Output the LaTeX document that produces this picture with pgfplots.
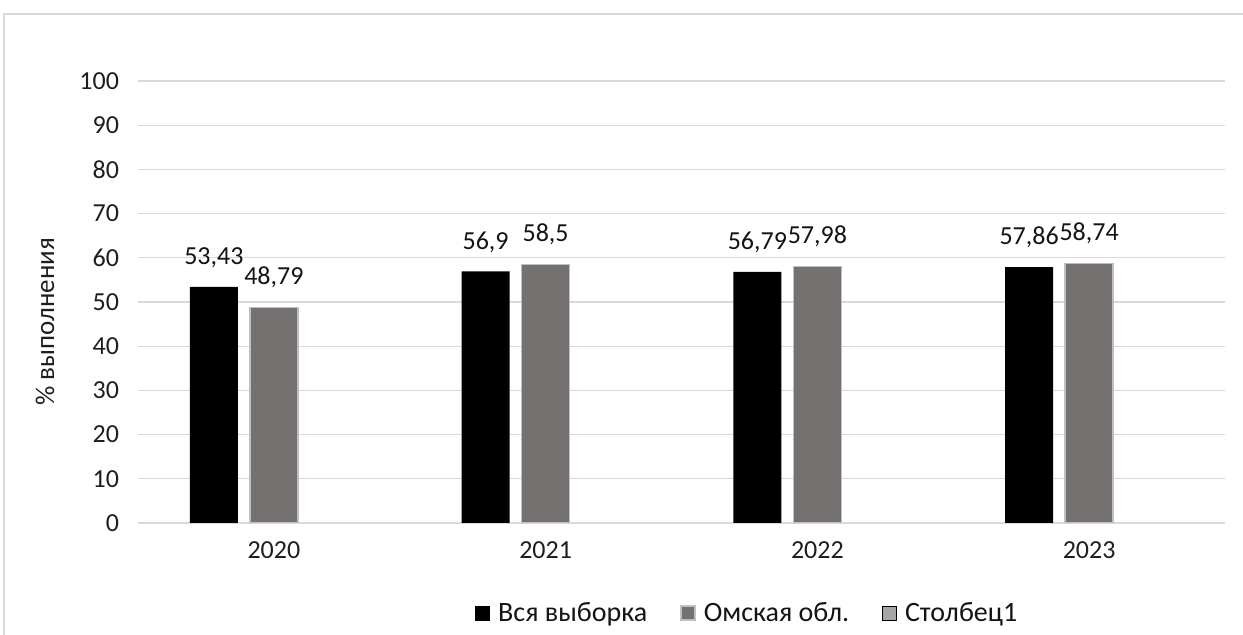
\documentclass[border=0pt]{standalone}
\usepackage{fontspec}
\setmainfont{Carlito}
\usepackage{pgfplots}
\pgfplotsset{compat=1.18}
\definecolor{omsk}{RGB}{118,113,113}
\definecolor{omskedge}{RGB}{191,191,191}
\definecolor{col1}{RGB}{165,165,165}
\definecolor{gridc}{RGB}{217,217,217}
\definecolor{txt}{RGB}{20,20,20}
\definecolor{tickc}{RGB}{30,30,30}
\begin{document}
\begin{tikzpicture}
\useasboundingbox (0,0) rectangle (621.5pt,317.5pt);
\begin{scope}
\clip (0,0) rectangle (621.5pt,317.5pt);
\draw[gridc, line width=0.6pt] (2pt,-5pt) rectangle (630pt,310.5pt);
\end{scope}
\begin{axis}[
  at={(69pt,56pt)}, anchor=south west,
  scale only axis, width=543.5pt, height=221pt,
  xmin=-0.5, xmax=3.5, ymin=0, ymax=100,
  xtick={0,1,2,3}, xticklabels={2020,2021,2022,2023},
  ytick={0,10,...,100},
  ymajorgrids, grid style={gridc, line width=0.6pt},
  axis line style={draw=none},
  major tick length=0pt,
  tick label style={font=\fontsize{13}{15}\selectfont, text=tickc},
  yticklabel style={xshift=-6pt},
  xticklabel style={yshift=-6pt},
  /pgf/number format/assume math mode=true,
  /pgf/number format/use comma,
  /pgf/number format/1000 sep={},
  ylabel={\% выполнения},
  ylabel style={at={(axis description cs:-0.0856,0.455)}, anchor=center, font=\fontsize{13.5}{15}\selectfont, text=tickc},
  legend style={at={(axis description cs:0.561,-0.2036)}, anchor=center, draw=none, fill=none, legend columns=3,
    font=\fontsize{14}{16}\selectfont, text=txt, nodes={inner xsep=1.5pt},
    /tikz/every odd column/.append style={column sep=2.5pt},
    /tikz/every even column/.append style={column sep=15pt}},
  legend image code/.code={\draw[#1] (0pt,-3.5pt) rectangle (7pt,3.5pt);},
  nodes near coords={\pgfmathprintnumber{\pgfplotspointmeta}},
  every node near coord/.append style={font=\fontsize{13}{15}\selectfont, text=txt, yshift=6pt},
]
\addplot[ybar, bar width=24pt, bar shift=-30pt, fill=black, draw=none,
  every node near coord/.append style={xshift=-30pt}]
  coordinates {(0,53.43) (1,56.9) (2,56.79) (3,57.86)};
\addlegendentry{Вся выборка}
\addplot[ybar, bar width=24pt, bar shift=0pt, fill=omsk, draw=omskedge, line width=0.75pt]
  coordinates {(0,48.79) (1,58.5) (2,57.98) (3,58.74)};
\addlegendentry{Омская обл.}
\addlegendimage{fill=col1, draw=none}
\addlegendentry{Столбец1}
\end{axis}
\end{tikzpicture}
\end{document}
